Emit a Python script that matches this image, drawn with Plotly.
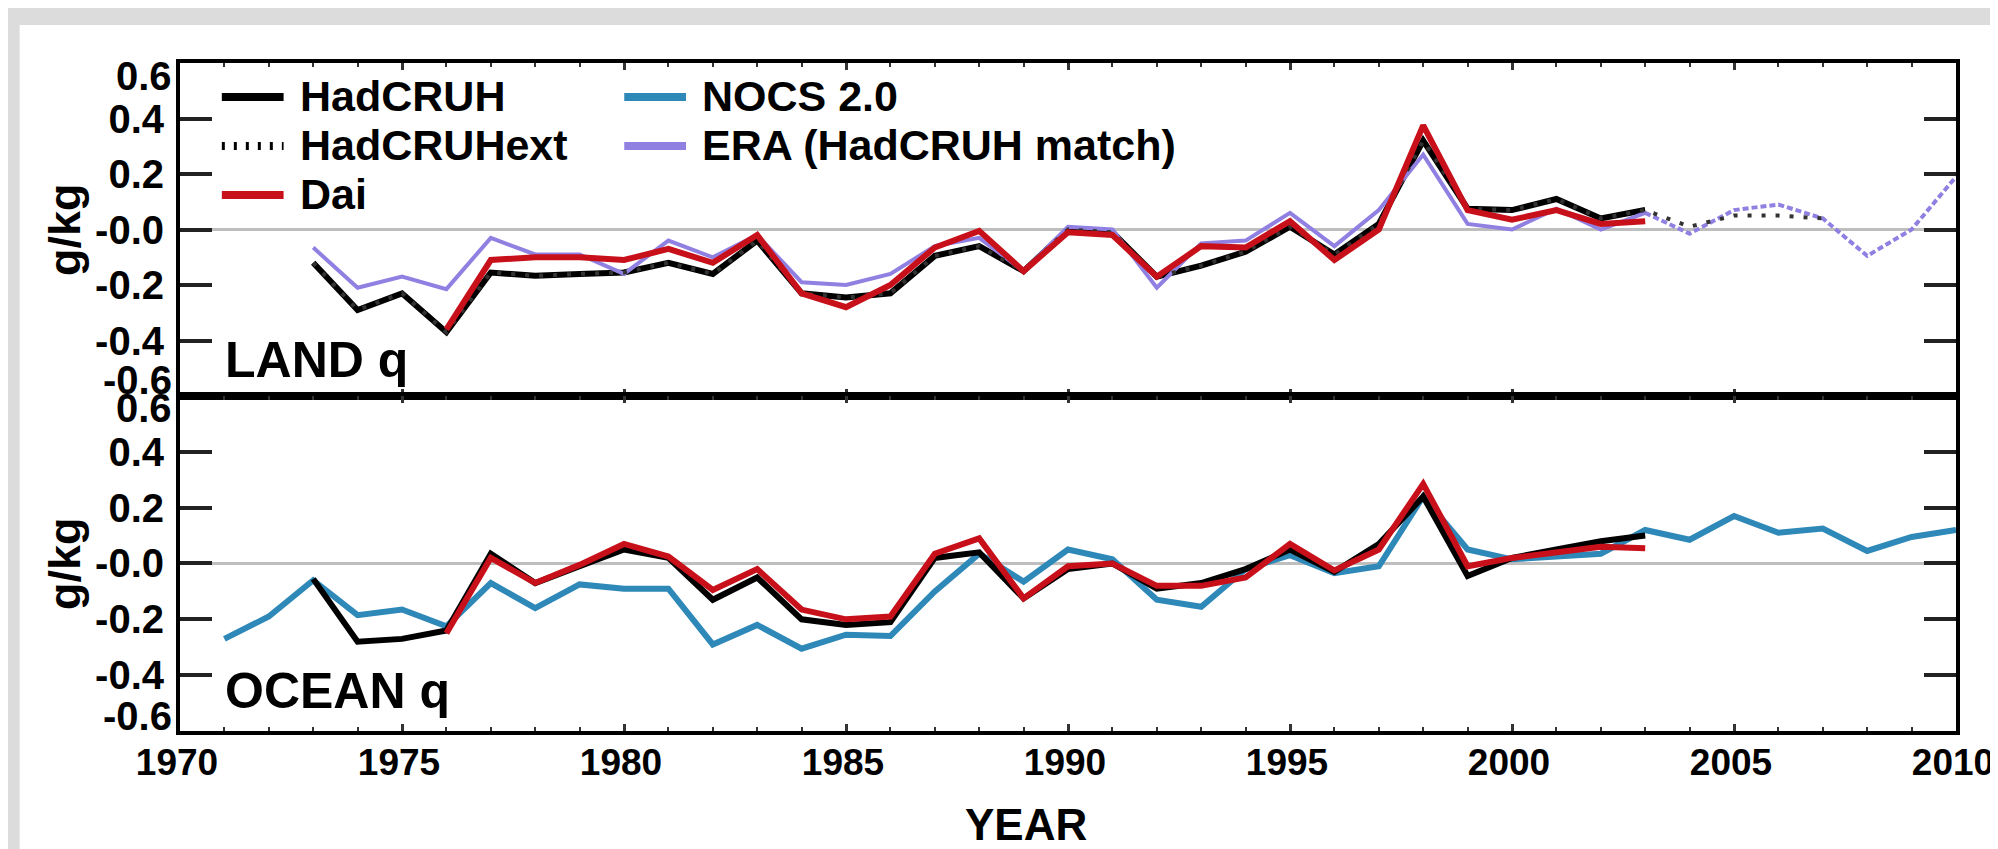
import plotly.graph_objects as go

# ---------------- data ----------------
land_years = list(range(1973, 2004))
land_hadcruh = [-0.12, -0.29, -0.23, -0.37, -0.155, -0.167, -0.16, -0.155, -0.12, -0.16,
                -0.04, -0.23, -0.245, -0.23, -0.095, -0.06, -0.15, 0.0, -0.01, -0.17,
                -0.13, -0.08, 0.01, -0.09, 0.02, 0.32, 0.075, 0.07, 0.11, 0.04, 0.07]

land_ext_years = list(range(1973, 2008))
land_hadcruhext = [-0.12, -0.29, -0.23, -0.37, -0.155, -0.167, -0.16, -0.155, -0.12, -0.16,
                   -0.04, -0.23, -0.245, -0.23, -0.095, -0.06, -0.15, 0.0, -0.01, -0.17,
                   -0.13, -0.08, 0.01, -0.09, 0.02, 0.32, 0.075, 0.07, 0.11, 0.04, 0.07,
                   0.01, 0.05, 0.05, 0.04]

land_dai_years = list(range(1976, 2004))
land_dai = [-0.36, -0.11, -0.10, -0.10, -0.11, -0.07, -0.12, -0.02, -0.23, -0.28,
            -0.20, -0.065, -0.005, -0.15, -0.01, -0.02, -0.17, -0.06, -0.065, 0.03,
            -0.11, 0.0, 0.375, 0.07, 0.035, 0.07, 0.02, 0.03]

# ERA: matched period (solid) and the extension beyond 2003 (dotted)
land_era_years = list(range(1973, 2004))
land_era = [-0.065, -0.21, -0.17, -0.215, -0.03, -0.09, -0.09, -0.16, -0.04, -0.10,
            -0.02, -0.19, -0.20, -0.16, -0.06, -0.03, -0.15, 0.01, 0.0, -0.21,
            -0.05, -0.04, 0.06, -0.06, 0.07, 0.27, 0.02, 0.0, 0.075, 0.0, 0.06]
land_era_ext_years = list(range(2003, 2011))
land_era_ext = [0.06, -0.015, 0.07, 0.09, 0.04, -0.095, 0.0, 0.19]

ocean_nocs_years = list(range(1971, 2011))
ocean_nocs = [-0.27, -0.19, -0.06, -0.185, -0.165, -0.225, -0.07, -0.16, -0.075, -0.09,
              -0.09, -0.29, -0.22, -0.305, -0.255, -0.26, -0.10, 0.035, -0.065, 0.05,
              0.015, -0.13, -0.155, -0.02, 0.03, -0.035, -0.01, 0.24, 0.05, 0.015,
              0.025, 0.035, 0.12, 0.085, 0.17, 0.11, 0.125, 0.045, 0.095, 0.12]

ocean_years = list(range(1973, 2004))
ocean_hadcruh = [-0.055, -0.28, -0.27, -0.24, 0.035, -0.07, -0.01, 0.05, 0.02, -0.13,
                 -0.05, -0.20, -0.22, -0.21, 0.02, 0.04, -0.125, -0.02, 0.0, -0.09,
                 -0.07, -0.02, 0.05, -0.03, 0.07, 0.24, -0.045, 0.02, 0.05, 0.08, 0.10]

ocean_dai_years = list(range(1976, 2004))
ocean_dai = [-0.25, 0.02, -0.07, -0.005, 0.07, 0.025, -0.095, -0.02, -0.165, -0.20,
             -0.19, 0.035, 0.09, -0.125, -0.01, 0.0, -0.08, -0.08, -0.05, 0.07,
             -0.025, 0.05, 0.285, -0.01, 0.02, 0.04, 0.06, 0.055]

x_tickvals = [1970, 1975, 1980, 1985, 1990, 1995, 2000, 2005, 2010]
y_tickvals = [-0.6, -0.4, -0.2, 0.0, 0.2, 0.4, 0.6]
y_ticktext = ["", "-0.4", "-0.2", "-0.0", "0.2", "0.4", ""]

series_names = ["HadCRUH", "HadCRUHext", "Dai", "NOCS 2.0", "ERA (HadCRUH match)"]

# ---------------- style ----------------
W, H = 1998, 849
ML, MR, MT, MB = 172, 43, 55, 126
PW, PH = W - ML - MR, H - MT - MB
FONT = "Liberation Sans, Arial, Helvetica, sans-serif"
BLACK = "#000000"
RED = "#c8101a"
BLUE = "#2e88b8"
LAV = "#9080e2"


def px_x(x):
    return (x - ML) / PW


def px_y(y):
    return (H - MB - y) / PH


fig = go.Figure()

# upper panel (LAND)
fig.add_trace(go.Scatter(x=land_years, y=land_hadcruh, mode="lines", name="HadCRUH",
                         line=dict(color=BLACK, width=6), xaxis="x", yaxis="y", showlegend=False))
fig.add_trace(go.Scatter(x=land_era_years, y=land_era, mode="lines", name="ERA (HadCRUH match)",
                         line=dict(color=LAV, width=4), xaxis="x", yaxis="y", showlegend=False))
fig.add_trace(go.Scatter(x=land_era_ext_years, y=land_era_ext, mode="lines",
                         name="ERA (HadCRUH match)",
                         line=dict(color=LAV, width=4, dash="6px,3px"), xaxis="x", yaxis="y",
                         showlegend=False))
fig.add_trace(go.Scatter(x=land_ext_years, y=land_hadcruhext, mode="lines", name="HadCRUHext",
                         line=dict(color="#333333", width=4, dash="4px,10px"), xaxis="x",
                         yaxis="y", showlegend=False))
fig.add_trace(go.Scatter(x=land_dai_years, y=land_dai, mode="lines", name="Dai",
                         line=dict(color=RED, width=6), xaxis="x", yaxis="y", showlegend=False))

# lower panel (OCEAN)
fig.add_trace(go.Scatter(x=ocean_nocs_years, y=ocean_nocs, mode="lines", name="NOCS 2.0",
                         line=dict(color=BLUE, width=6), xaxis="x2", yaxis="y2", showlegend=False))
fig.add_trace(go.Scatter(x=ocean_years, y=ocean_hadcruh, mode="lines", name="HadCRUH",
                         line=dict(color=BLACK, width=6), xaxis="x2", yaxis="y2", showlegend=False))
fig.add_trace(go.Scatter(x=ocean_dai_years, y=ocean_dai, mode="lines", name="Dai",
                         line=dict(color=RED, width=6), xaxis="x2", yaxis="y2", showlegend=False))

split = 0.5015
tickfont = dict(family=FONT, size=40, color="black", weight="bold")
xtickfont = dict(family=FONT, size=37, color="black", weight="bold")

xcommon = dict(range=[1970, 2010], tickvals=x_tickvals, ticks="inside", ticklen=7, tickwidth=3,
               tickcolor="#333", showline=True, linecolor="black", linewidth=4, mirror="ticks",
               showgrid=False, zeroline=False,
               minor=dict(dtick=1, tick0=1970, ticks="inside", ticklen=4, tickwidth=2,
                          tickcolor="#333", showgrid=False))
ycommon = dict(range=[-0.6, 0.6], tickvals=y_tickvals, ticktext=y_ticktext, ticks="inside",
               ticklen=32, tickwidth=4, tickcolor="#222", showline=True, linecolor="black",
               linewidth=4, mirror="ticks", showgrid=False, zeroline=True,
               zerolinecolor="#bebebe", zerolinewidth=3, tickfont=tickfont,
               ticklabelstandoff=4)

fig.update_layout(
    width=W, height=H,
    margin=dict(l=ML, r=MR, t=MT, b=MB, pad=0),
    paper_bgcolor="#dcdcdc",
    plot_bgcolor="white",
    showlegend=False,
    xaxis=dict(domain=[0, 1], anchor="y", showticklabels=False, **xcommon),
    yaxis=dict(domain=[split, 1], anchor="x", **ycommon),
    xaxis2=dict(domain=[0, 1], anchor="y2", showticklabels=True, tickfont=xtickfont,
                ticklabelstandoff=-4, ticklabelshift=-3, ticklabeloverflow="allow", **xcommon),
    yaxis2=dict(domain=[0, split], anchor="x2", **ycommon),
)

# white page area (grey strip left and top)
shapes = [dict(type="rect", xref="paper", yref="paper", x0=px_x(11), x1=px_x(W + 5),
               y0=px_y(17), y1=px_y(H + 5), fillcolor="white", line=dict(width=0),
               layer="below")]

# legend keys (drawn in pixel-derived paper coords)
leg_items = [
    (series_names[0], 214, 89, BLACK, None),
    (series_names[1], 214, 138, BLACK, "3px,9px"),
    (series_names[2], 214, 187, RED, None),
    (series_names[3], 618, 89, BLUE, None),
    (series_names[4], 618, 138, LAV, None),
]
annotations = []
for name, lx, ly, col, dash in leg_items:
    shapes.append(dict(type="line", xref="paper", yref="paper", x0=px_x(lx), x1=px_x(lx + 62),
                       y0=px_y(ly), y1=px_y(ly),
                       line=dict(color=col, width=8, dash=dash if dash else "solid")))
    annotations.append(dict(text=name, xref="paper", yref="paper", x=px_x(lx + 76), y=px_y(ly - 1),
                            xanchor="left", yanchor="middle", showarrow=False,
                            font=dict(family=FONT, size=43, color="black", weight="bold")))

# panel labels
annotations.append(dict(text="LAND q", xref="x domain", yref="y domain", x=px_x(215), y=0.108,
                        xanchor="left", yanchor="middle", showarrow=False,
                        font=dict(family=FONT, size=50, color="black", weight="bold")))
annotations.append(dict(text="OCEAN q", xref="x2 domain", yref="y2 domain", x=px_x(215), y=0.119,
                        xanchor="left", yanchor="middle", showarrow=False,
                        font=dict(family=FONT, size=50, color="black", weight="bold")))
# y-axis titles (one per panel, centred on the panel)
for yref in ["y domain", "y2 domain"]:
    annotations.append(dict(text="g/kg", xref="paper", yref=yref, x=px_x(56), y=0.5,
                            xanchor="center", yanchor="middle", textangle=-90, showarrow=False,
                            font=dict(family=FONT, size=45, color="black", weight="bold")))
# x-axis title
annotations.append(dict(text="YEAR", xref="paper", yref="paper", x=px_x(1021), y=px_y(816),
                        xanchor="center", yanchor="middle", showarrow=False,
                        font=dict(family=FONT, size=44, color="black", weight="bold")))
# end tick labels, pulled inside the panel as in the original
for yref, val, txt, shift in [("y", 0.6, "0.6", -13), ("y", -0.6, "-0.6", 16),
                              ("y2", 0.6, "0.6", -12), ("y2", -0.6, "-0.6", 15)]:
    annotations.append(dict(text=txt, xref="paper", yref=yref, x=0, y=val, xanchor="right",
                            yanchor="middle", xshift=-6, yshift=shift, showarrow=False,
                            font=tickfont))

fig.update_layout(shapes=shapes, annotations=annotations)
fig.write_html("out.html")
